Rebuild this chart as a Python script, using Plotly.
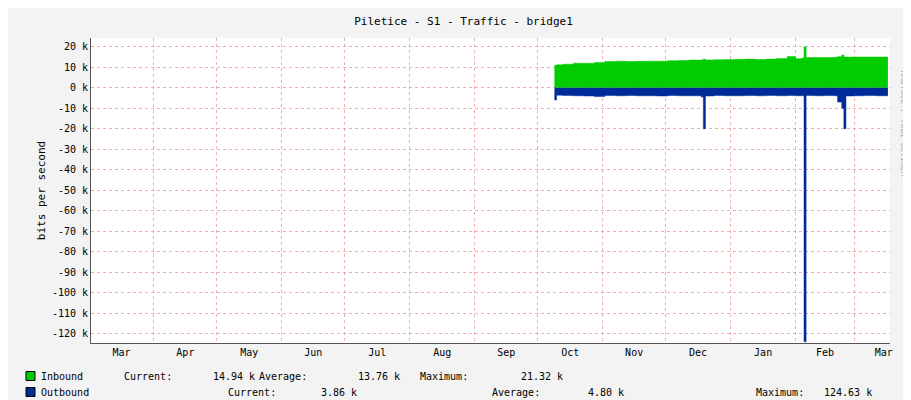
import plotly.graph_objects as go

dates = ["2013-10-09","2013-10-10","2013-10-13","2013-10-18","2013-10-23","2013-10-28","2013-11-02","2013-11-07",
         "2013-11-12","2013-11-17","2013-11-22","2013-11-27","2013-12-02","2013-12-07","2013-12-12","2013-12-18",
         "2013-12-19","2013-12-20","2013-12-24","2013-12-29","2014-01-03","2014-01-08","2014-01-13","2014-01-18",
         "2014-01-23","2014-01-28","2014-02-01","2014-02-04","2014-02-05","2014-02-06","2014-02-10","2014-02-15",
         "2014-02-19","2014-02-21","2014-02-23","2014-02-24","2014-02-25","2014-03-01","2014-03-06","2014-03-11","2014-03-17"]
inbound = [11.0,11.2,11.5,12.0,12.0,12.3,12.8,13.0,
           12.8,12.9,13.0,13.0,13.2,13.3,13.5,13.6,
           14.0,13.6,13.7,13.8,13.9,14.0,13.8,14.0,
           14.3,15.3,14.2,14.5,20.0,14.8,14.8,14.8,
           14.9,15.2,16.0,15.0,15.0,15.0,15.0,15.0,14.94]
outbound = [-6.0,-3.6,-3.8,-3.9,-4.0,-4.3,-3.8,-3.9,
            -3.8,-3.9,-3.9,-4.0,-3.8,-3.9,-3.9,-4.5,
            -20.0,-4.0,-3.8,-3.9,-3.9,-3.8,-3.9,-3.8,
            -3.9,-3.8,-3.9,-3.9,-124.0,-3.8,-3.9,-3.8,
            -3.9,-7.0,-10.0,-20.0,-4.0,-3.9,-3.8,-3.9,-3.86]
yticks = [20,10,0,-10,-20,-30,-40,-50,-60,-70,-80,-90,-100,-110,-120]

fig = go.Figure()
fig.add_trace(go.Scatter(x=dates, y=inbound, fill="tozeroy", mode="lines", line=dict(color="#00CC00", width=0.5, shape="hv"), fillcolor="#00CC00"))
fig.add_trace(go.Scatter(x=dates, y=outbound, fill="tozeroy", mode="lines", line=dict(color="#002A97", width=0.5, shape="hv"), fillcolor="#002A97"))

mono = "DejaVu Sans Mono"
grid = "rgba(230,150,150,0.75)"
fig.update_layout(
    width=911, height=400, showlegend=False,
    paper_bgcolor="#F3F3F3", plot_bgcolor="#FFFFFF",
    margin=dict(l=83, r=29, t=30, b=65),
    font=dict(family=mono, size=10, color="#000"),
    title=dict(text="Piletice - S1 - Traffic - bridge1", x=0.5, y=0.967, yanchor="middle", font=dict(family=mono, size=11)),
    xaxis=dict(type="date", range=["2013-03-02", "2014-03-18"], dtick="M1", tick0="2013-03-01",
               tickformat="%b", ticklabelmode="period", showgrid=True, gridcolor=grid,
               griddash="dot", gridwidth=1, ticks="", zeroline=False, showline=True, linecolor="#555",
               automargin=False, tickfont=dict(family=mono, size=10)),
    yaxis=dict(range=[-124.6, 24.3], tickvals=yticks, ticktext=[f"{v} k" for v in yticks],
               showgrid=True, gridcolor=grid, griddash="dot", ticks="",
               zeroline=False, showline=True, linecolor="#555", automargin=False,
               title=dict(text="bits per second", font=dict(family=mono, size=11), standoff=4),
               tickfont=dict(family=mono, size=10)),
)

def txt(x, y, s):
    fig.add_annotation(xref="paper", yref="paper", x=(x - 83) / 799.0, y=(335 - y) / 305.0,
                       text=s, showarrow=False, xanchor="left", yanchor="middle",
                       font=dict(family=mono, size=10, color="#000"))

for y, col in [(368, "#00CC00"), (384, "#002A97")]:
    fig.add_shape(type="rect", xref="paper", yref="paper",
                  x0=(18 - 83) / 799.0, x1=(27 - 83) / 799.0,
                  y0=(335 - y + 4.5) / 305.0, y1=(335 - y - 4.5) / 305.0,
                  fillcolor=col, line=dict(color="#000", width=1))

for x, s in [(31, "Inbound"), (114, "Current:"), (203, "14.94 k"), (249, "Average:"), (348, "13.76 k"),
             (410, "Maximum:"), (511, "21.32 k")]:
    txt(x, 368, s)
for x, s in [(31, "Outbound"), (218, "Current:"), (311, "3.86 k"), (482, "Average:"), (578, "4.80 k"),
             (746, "Maximum:"), (814, "124.63 k")]:
    txt(x, 384, s)

fig.add_annotation(xref="paper", yref="paper", x=(902 - 83) / 799.0, y=(335 - 60) / 305.0,
                   text="RRDTOOL / TOBI OETIKER", textangle=90, showarrow=False,
                   font=dict(family=mono, size=8, color="#aaa"))

fig.write_html("out.html")
